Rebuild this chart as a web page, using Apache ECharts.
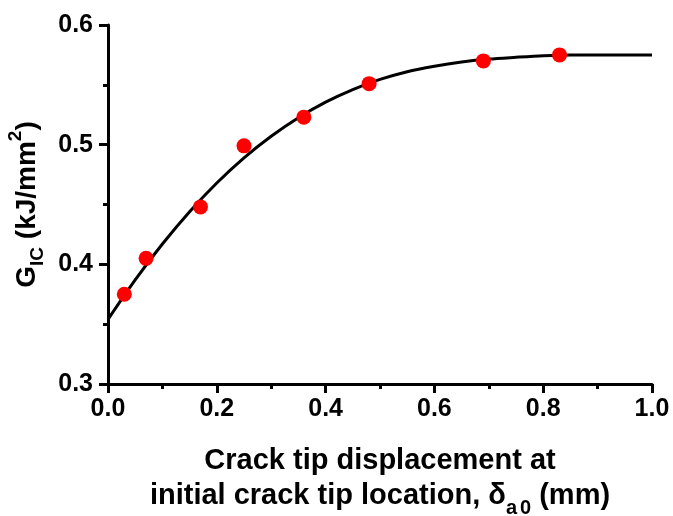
<!DOCTYPE html>
<html>
<head>
<meta charset="utf-8">
<script src="https://cdn.jsdelivr.net/npm/echarts@6/dist/echarts.min.js"></script>
<style>html,body{margin:0;padding:0;background:#fff}#c{width:673px;height:516px}</style>
</head>
<body>
<div id="c"></div>
<script>
// Measured data points
const pointX = [0.03, 0.07, 0.17, 0.25, 0.36, 0.48, 0.69, 0.83];
const pointY = [0.375, 0.405, 0.448, 0.499, 0.523, 0.551, 0.570, 0.575];
// Fitted curve
const curveX = [0, 0.05, 0.10, 0.15, 0.20, 0.25, 0.30, 0.35, 0.40, 0.45, 0.50, 0.55, 0.60, 0.65, 0.70, 0.75, 0.80, 0.85, 0.90, 0.95, 1.00];
const curveY = [0.354, 0.387, 0.417, 0.444, 0.468, 0.489, 0.507, 0.5225, 0.5355, 0.546, 0.5545, 0.561, 0.5655, 0.569, 0.5715, 0.573, 0.5743, 0.575, 0.575, 0.575, 0.575];
// Axis ticks
const xTicks = { min: 0, max: 1, interval: 0.2 };
const yTicks = { min: 0.3, max: 0.6, interval: 0.1 };

const FONT = '"Liberation Sans", Arial, Helvetica, sans-serif';
const chart = echarts.init(document.getElementById('c'), null, { renderer: 'canvas' });

const axisCommon = {
  type: 'value',
  splitLine: { show: false },
  axisLine: { show: true, onZero: false, lineStyle: { color: '#000', width: 3 } },
  axisTick: { show: true, length: 9, lineStyle: { color: '#000', width: 3 } },
  minorTick: { show: true, splitNumber: 2, length: 5, lineStyle: { color: '#000', width: 3 } },
  axisLabel: { color: '#000', fontSize: 25, fontWeight: 'bold', fontFamily: FONT, formatter: v => v.toFixed(1) },
  nameTextStyle: { color: '#000', fontFamily: FONT }
};

chart.setOption({
  animation: false,
  backgroundColor: '#fff',
  grid: { left: 108, right: 21, top: 25, bottom: 132, containLabel: false, outerBoundsMode: 'none' },
  xAxis: Object.assign({}, axisCommon, {
    min: xTicks.min, max: xTicks.max, interval: xTicks.interval,
    axisLabel: Object.assign({}, axisCommon.axisLabel, { margin: 13 }),
    name: '{t|Crack tip displacement at}\n{t|initial crack tip location, δ}{s|a}{s2|0}{t| (mm)}',
    nameLocation: 'middle',
    nameGap: 59,
    nameTextStyle: {
      color: '#000', fontFamily: FONT, align: 'center',
      rich: {
        t: { fontSize: 29, fontWeight: 'bold', fontFamily: FONT, color: '#000', lineHeight: 35 },
        s: { fontSize: 20, fontWeight: 'bold', fontFamily: FONT, color: '#000', lineHeight: 35, verticalAlign: 'bottom', padding: [0, 0, -5, 0] },
        s2: { fontSize: 20, fontWeight: 'bold', fontFamily: FONT, color: '#000', lineHeight: 35, verticalAlign: 'bottom', padding: [0, 0, -5, 3] }
      }
    }
  }),
  yAxis: Object.assign({}, axisCommon, {
    min: yTicks.min, max: yTicks.max, interval: yTicks.interval,
    axisLabel: Object.assign({}, axisCommon.axisLabel, { margin: 15 }),
    name: '{t|G}{s|IC}{t| (kJ/mm}{p|2}{t|)}',
    nameLocation: 'middle',
    nameGap: 64,
    nameRotate: 90,
    nameTextStyle: {
      color: '#000', fontFamily: FONT,
      rich: {
        t: { fontSize: 28, fontWeight: 'bold', fontFamily: FONT, color: '#000', lineHeight: 34 },
        s: { fontSize: 19, fontWeight: 'bold', fontFamily: FONT, color: '#000', lineHeight: 34, verticalAlign: 'bottom', padding: [0, 0, -3, 0] },
        p: { fontSize: 19, fontWeight: 'bold', fontFamily: FONT, color: '#000', lineHeight: 34, verticalAlign: 'top', padding: [-4, 0, 0, 0] }
      }
    }
  }),
  series: [
    {
      type: 'line',
      data: curveX.map((x, i) => [x, curveY[i]]),
      smooth: 0.3,
      showSymbol: false,
      symbol: 'none',
      lineStyle: { color: '#000', width: 3 },
      z: 2
    },
    {
      type: 'scatter',
      data: pointX.map((x, i) => [x, pointY[i]]),
      symbol: 'circle',
      symbolSize: 15,
      itemStyle: { color: '#ff0000', opacity: 1 },
      z: 3
    }
  ]
});
</script>
</body>
</html>
